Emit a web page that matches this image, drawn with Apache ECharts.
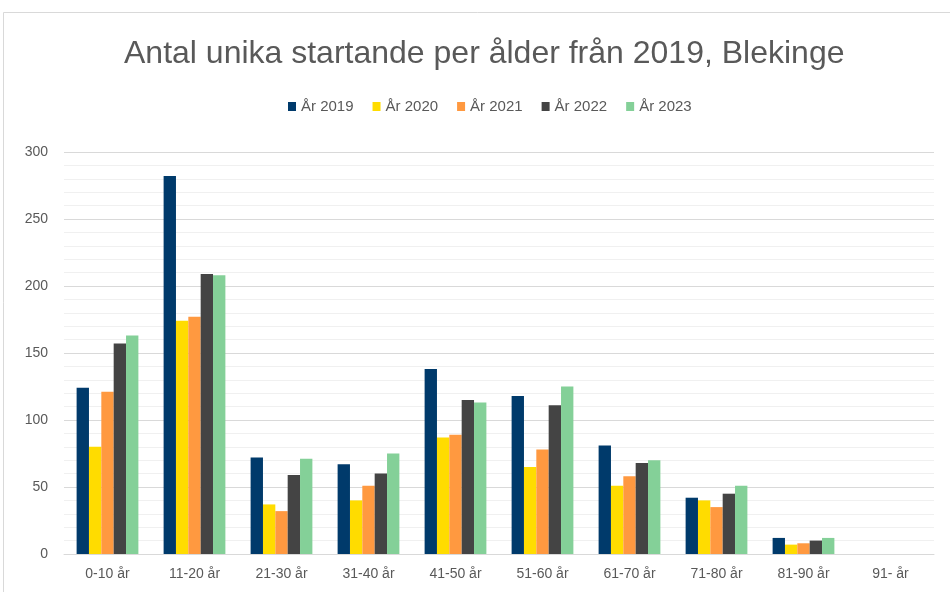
<!DOCTYPE html>
<html>
<head>
<meta charset="utf-8">
<script src="https://cdn.jsdelivr.net/npm/echarts@6/dist/echarts.min.js"></script>
<style>
  html, body { margin: 0; padding: 0; background: #fff; }
  #main { width: 950px; height: 592px; }
</style>
</head>
<body>
<div id="main"></div>
<script>
// åldersgrupper och värden per år
const categories = ['0-10 år', '11-20 år', '21-30 år', '31-40 år', '41-50 år', '51-60 år', '61-70 år', '71-80 år', '81-90 år', '91- år'];
const years = ['År 2019', 'År 2020', 'År 2021', 'År 2022', 'År 2023'];
const y2019 = [124, 282, 72, 67, 138, 118, 81, 42, 12, 0];
const y2020 = [80, 174, 37, 40, 87, 65, 51, 40, 7, 0];
const y2021 = [121, 177, 32, 51, 89, 78, 58, 35, 8, 0];
const y2022 = [157, 209, 59, 60, 115, 111, 68, 45, 10, 0];
const y2023 = [163, 208, 71, 75, 113, 125, 70, 51, 12, 0];
const colors = ['#003A6B', '#FFDC00', '#FF9940', '#444444', '#84D098'];

const chart = echarts.init(document.getElementById('main'));
const font = 'Liberation Sans, Arial, sans-serif';

const series = [y2019, y2020, y2021, y2022, y2023].map((d, i) => ({
  name: years[i],
  type: 'bar',
  data: d,
  barGap: '0%',
  barCategoryGap: '29%',
  itemStyle: { color: colors[i] }
}));

const option = {
  backgroundColor: '#fff',
  color: colors,
  animation: false,
  textStyle: { fontFamily: font },
  title: {
    text: 'Antal unika startande per ålder från 2019, Blekinge',
    left: 119,
    top: 33,
    textStyle: { fontFamily: font, fontSize: 32, fontWeight: 'normal', color: '#595959' }
  },
  legend: {
    data: years,
    top: 94,
    left: 283,
    itemWidth: 8,
    itemHeight: 9,
    itemGap: 19,
    icon: 'rect',
    textStyle: { fontFamily: font, fontSize: 15, color: '#595959' }
  },
  grid: { left: 64, right: 16, top: 152, bottom: 38, containLabel: false },
  xAxis: {
    type: 'category',
    data: categories,
    axisTick: { show: false },
    axisLine: { lineStyle: { color: '#d9d9d9', width: 1 } },
    axisLabel: { fontFamily: font, fontSize: 14, color: '#595959', margin: 13 }
  },
  yAxis: {
    type: 'value',
    min: 0,
    max: 300,
    interval: 50,
    axisLine: { show: false },
    axisTick: { show: false },
    axisLabel: { fontFamily: font, fontSize: 14, color: '#595959', margin: 16 },
    splitLine: { lineStyle: { color: '#d9d9d9', width: 1 } },
    minorTick: { show: false, splitNumber: 5 },
    minorSplitLine: { show: true, lineStyle: { color: '#f0f0f0', width: 1 } }
  },
  graphic: [{
    type: 'rect',
    shape: { x: 3.5, y: 12.5, width: 1000, height: 700 },
    style: { fill: 'none', stroke: '#d9d9d9', lineWidth: 1 },
    silent: true
  }],
  series: series
};

chart.setOption(option);
</script>
</body>
</html>
